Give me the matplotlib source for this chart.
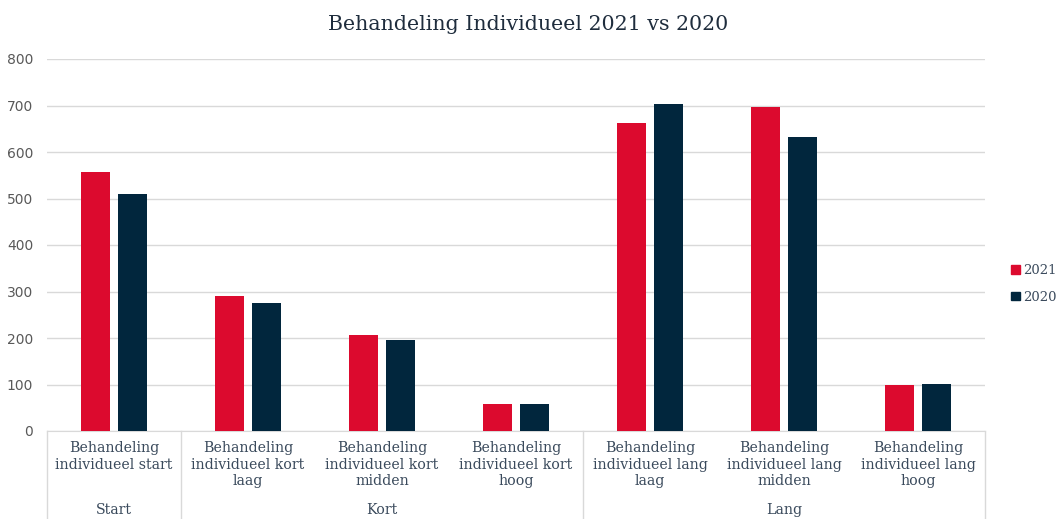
import matplotlib
matplotlib.use("Agg")
import matplotlib.pyplot as plt
from matplotlib.patches import Patch
import numpy as np

title = "Behandeling Individueel 2021 vs 2020"
categories = [
    "Behandeling\nindividueel start",
    "Behandeling\nindividueel kort\nlaag",
    "Behandeling\nindividueel kort\nmidden",
    "Behandeling\nindividueel kort\nhoog",
    "Behandeling\nindividueel lang\nlaag",
    "Behandeling\nindividueel lang\nmidden",
    "Behandeling\nindividueel lang\nhoog",
]
groups = ["Start", "Kort", "Lang"]
group_sizes = [1, 3, 3]
series_names = ["2021", "2020"]
values_2021 = [558, 291, 206, 59, 662, 696, 100]
values_2020 = [509, 276, 196, 57, 703, 632, 102]

red = "#DC0A2E"
navy = "#01263D"
text_col = "#3A4A5C"
grid_col = "#D9D9D9"
serif = "DejaVu Serif"

fig = plt.figure(figsize=(10.57, 5.19), dpi=100)
ax = fig.add_axes([47/1057, 1-431/519, (985-47)/1057, (431-59)/519])

x = np.arange(len(categories))
bw = 0.22
off = 0.138
ax.bar(x - off, values_2021, bw, color=red, zorder=3)
ax.bar(x + off, values_2020, bw, color=navy, zorder=3)

ax.set_xlim(-0.5, len(categories) - 0.5)
ax.set_ylim(0, 800)
ax.set_yticks(range(0, 801, 100))
ax.yaxis.grid(True, color=grid_col, linewidth=1.0)
ax.set_axisbelow(True)
for s in ["top", "right", "left"]:
    ax.spines[s].set_visible(False)
ax.spines["bottom"].set_color(grid_col)
ax.tick_params(axis="y", length=0, pad=10, labelsize=10, labelcolor="#595959")
for lab in ax.get_yticklabels():
    lab.set_fontfamily("DejaVu Sans")
ax.set_xticks([])

trans = ax.get_xaxis_transform()
for i, c in enumerate(categories):
    ax.text(i, -0.028, c, transform=trans, ha="center", va="top",
            fontsize=10.2, family=serif, color=text_col, linespacing=1.2)

bounds = [-0.5]
start = 0
for g, n in zip(groups, group_sizes):
    center = start + (n - 1) / 2
    ax.text(center, -0.212, g, transform=trans, ha="center", va="center",
            fontsize=10.2, family=serif, color=text_col)
    start += n
    bounds.append(start - 0.5)
for b in bounds:
    ax.plot([b, b], [0, -0.24], transform=trans, color=grid_col,
            linewidth=1.0, clip_on=False)

fig.text(0.5, 1 - 24/519, title, ha="center", va="center",
         fontsize=14.8, family=serif, color="#1F2D3D")

handles = [Patch(color=red), Patch(color=navy)]
leg = fig.legend(handles, series_names, loc="center left",
                 bbox_to_anchor=(1011/1057, 1 - 284/519), frameon=False,
                 borderpad=0, borderaxespad=0,
                 handlelength=0.65, handleheight=0.65, handletextpad=0.3,
                 labelspacing=1.0, prop={"family": serif, "size": 9.5})
for t in leg.get_texts():
    t.set_color(text_col)

fig.savefig("out.png", dpi=100, facecolor="white")
